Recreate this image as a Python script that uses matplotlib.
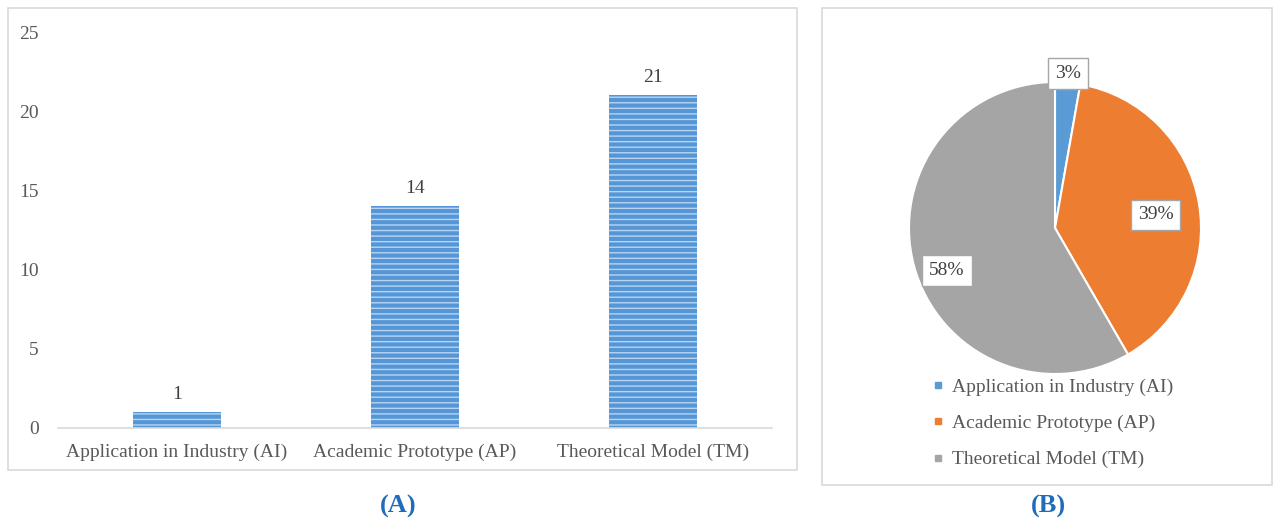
import matplotlib
matplotlib.use('Agg')
import matplotlib.pyplot as plt
import matplotlib.lines as mlines
from matplotlib.patches import Rectangle

categories = ['Application in Industry (AI)', 'Academic Prototype (AP)', 'Theoretical Model (TM)']
counts = [1, 14, 21]
pie_labels = ['3%', '39%', '58%']
pie_colors = ['#5b9bd5', '#ed7d31', '#a5a5a5']
yticks = [0, 5, 10, 15, 20, 25]

plt.rcParams['font.family'] = ['Liberation Serif', 'DejaVu Serif']
plt.rcParams['hatch.linewidth'] = 1.0

W, H = 1280, 522
fig = plt.figure(figsize=(W / 100, H / 100), dpi=100)

def px(x0, y0, x1, y1):
    # pixel box (top-left origin) -> figure fraction rect
    return [x0 / W, 1 - y1 / H, (x1 - x0) / W, (y1 - y0) / H]

# panel frames
for (x0, y0, x1, y1) in [(8, 8, 797, 470), (822, 8, 1272, 485)]:
    r = px(x0, y0, x1, y1)
    fig.add_artist(Rectangle((r[0], r[1]), r[2], r[3], transform=fig.transFigure,
                             fill=False, ec='#d9d9d9', lw=1.2))

# (A) bar chart
ax = fig.add_axes(px(58, 32, 772, 428))
ax.bar(range(len(categories)), counts, width=0.37, color='#5596d6',
       edgecolor='#b9d4f0', linewidth=0, hatch='---')
for i, v in enumerate(counts):
    ax.text(i, v + 0.6, str(v), ha='center', va='bottom', fontsize=14, color='#404040')
ax.set_xlim(-0.5, 2.5)
ax.set_ylim(0, 25)
ax.set_yticks(yticks)
ax.set_xticks(range(len(categories)))
ax.set_xticklabels(categories)
ax.tick_params(axis='both', length=0, labelsize=14, labelcolor='#595959')
ax.tick_params(axis='y', pad=14)
ax.tick_params(axis='x', pad=11)
for s in ['top', 'right', 'left']:
    ax.spines[s].set_visible(False)
ax.spines['bottom'].set_color('#d9d9d9')
ax.spines['bottom'].set_linewidth(1.2)

# (B) pie chart
ax2 = fig.add_axes(px(909, 82, 1201, 374))
ax2.pie(counts, colors=pie_colors, startangle=90, counterclock=False,
        wedgeprops=dict(edgecolor='white', linewidth=1.5))
ax2.set_xlim(-1, 1)
ax2.set_ylim(-1, 1)
ax2.set_aspect('equal')
label_pos = [(0.09, 1.06), (0.69, 0.09), (-0.74, -0.29)]
for lab, (x, y) in zip(pie_labels, label_pos):
    ax2.text(x, y, lab, ha='center', va='center', fontsize=14, color='#404040',
             bbox=dict(boxstyle='square,pad=0.35', fc='white', ec='#a6a6a6', lw=1.0),
             clip_on=False)

handles = [mlines.Line2D([], [], color='w', marker='s', markerfacecolor=c,
                         markeredgecolor=c, markersize=5, label=l)
           for c, l in zip(pie_colors, categories)]
leg = fig.legend(handles=handles, loc='upper left', bbox_to_anchor=(915 / W, 1 - 361 / H),
                 frameon=False, fontsize=14, labelspacing=0.95, handlelength=0.6,
                 handletextpad=0.4, labelcolor='#595959')

# panel captions
fig.text(398 / W, 1 - 506 / H, '(A)', ha='center', va='center', fontsize=19,
         fontweight='bold', color='#1f6dba')
fig.text(1048 / W, 1 - 506 / H, '(B)', ha='center', va='center', fontsize=19,
         fontweight='bold', color='#1f6dba')

fig.savefig('out.png', dpi=100)
